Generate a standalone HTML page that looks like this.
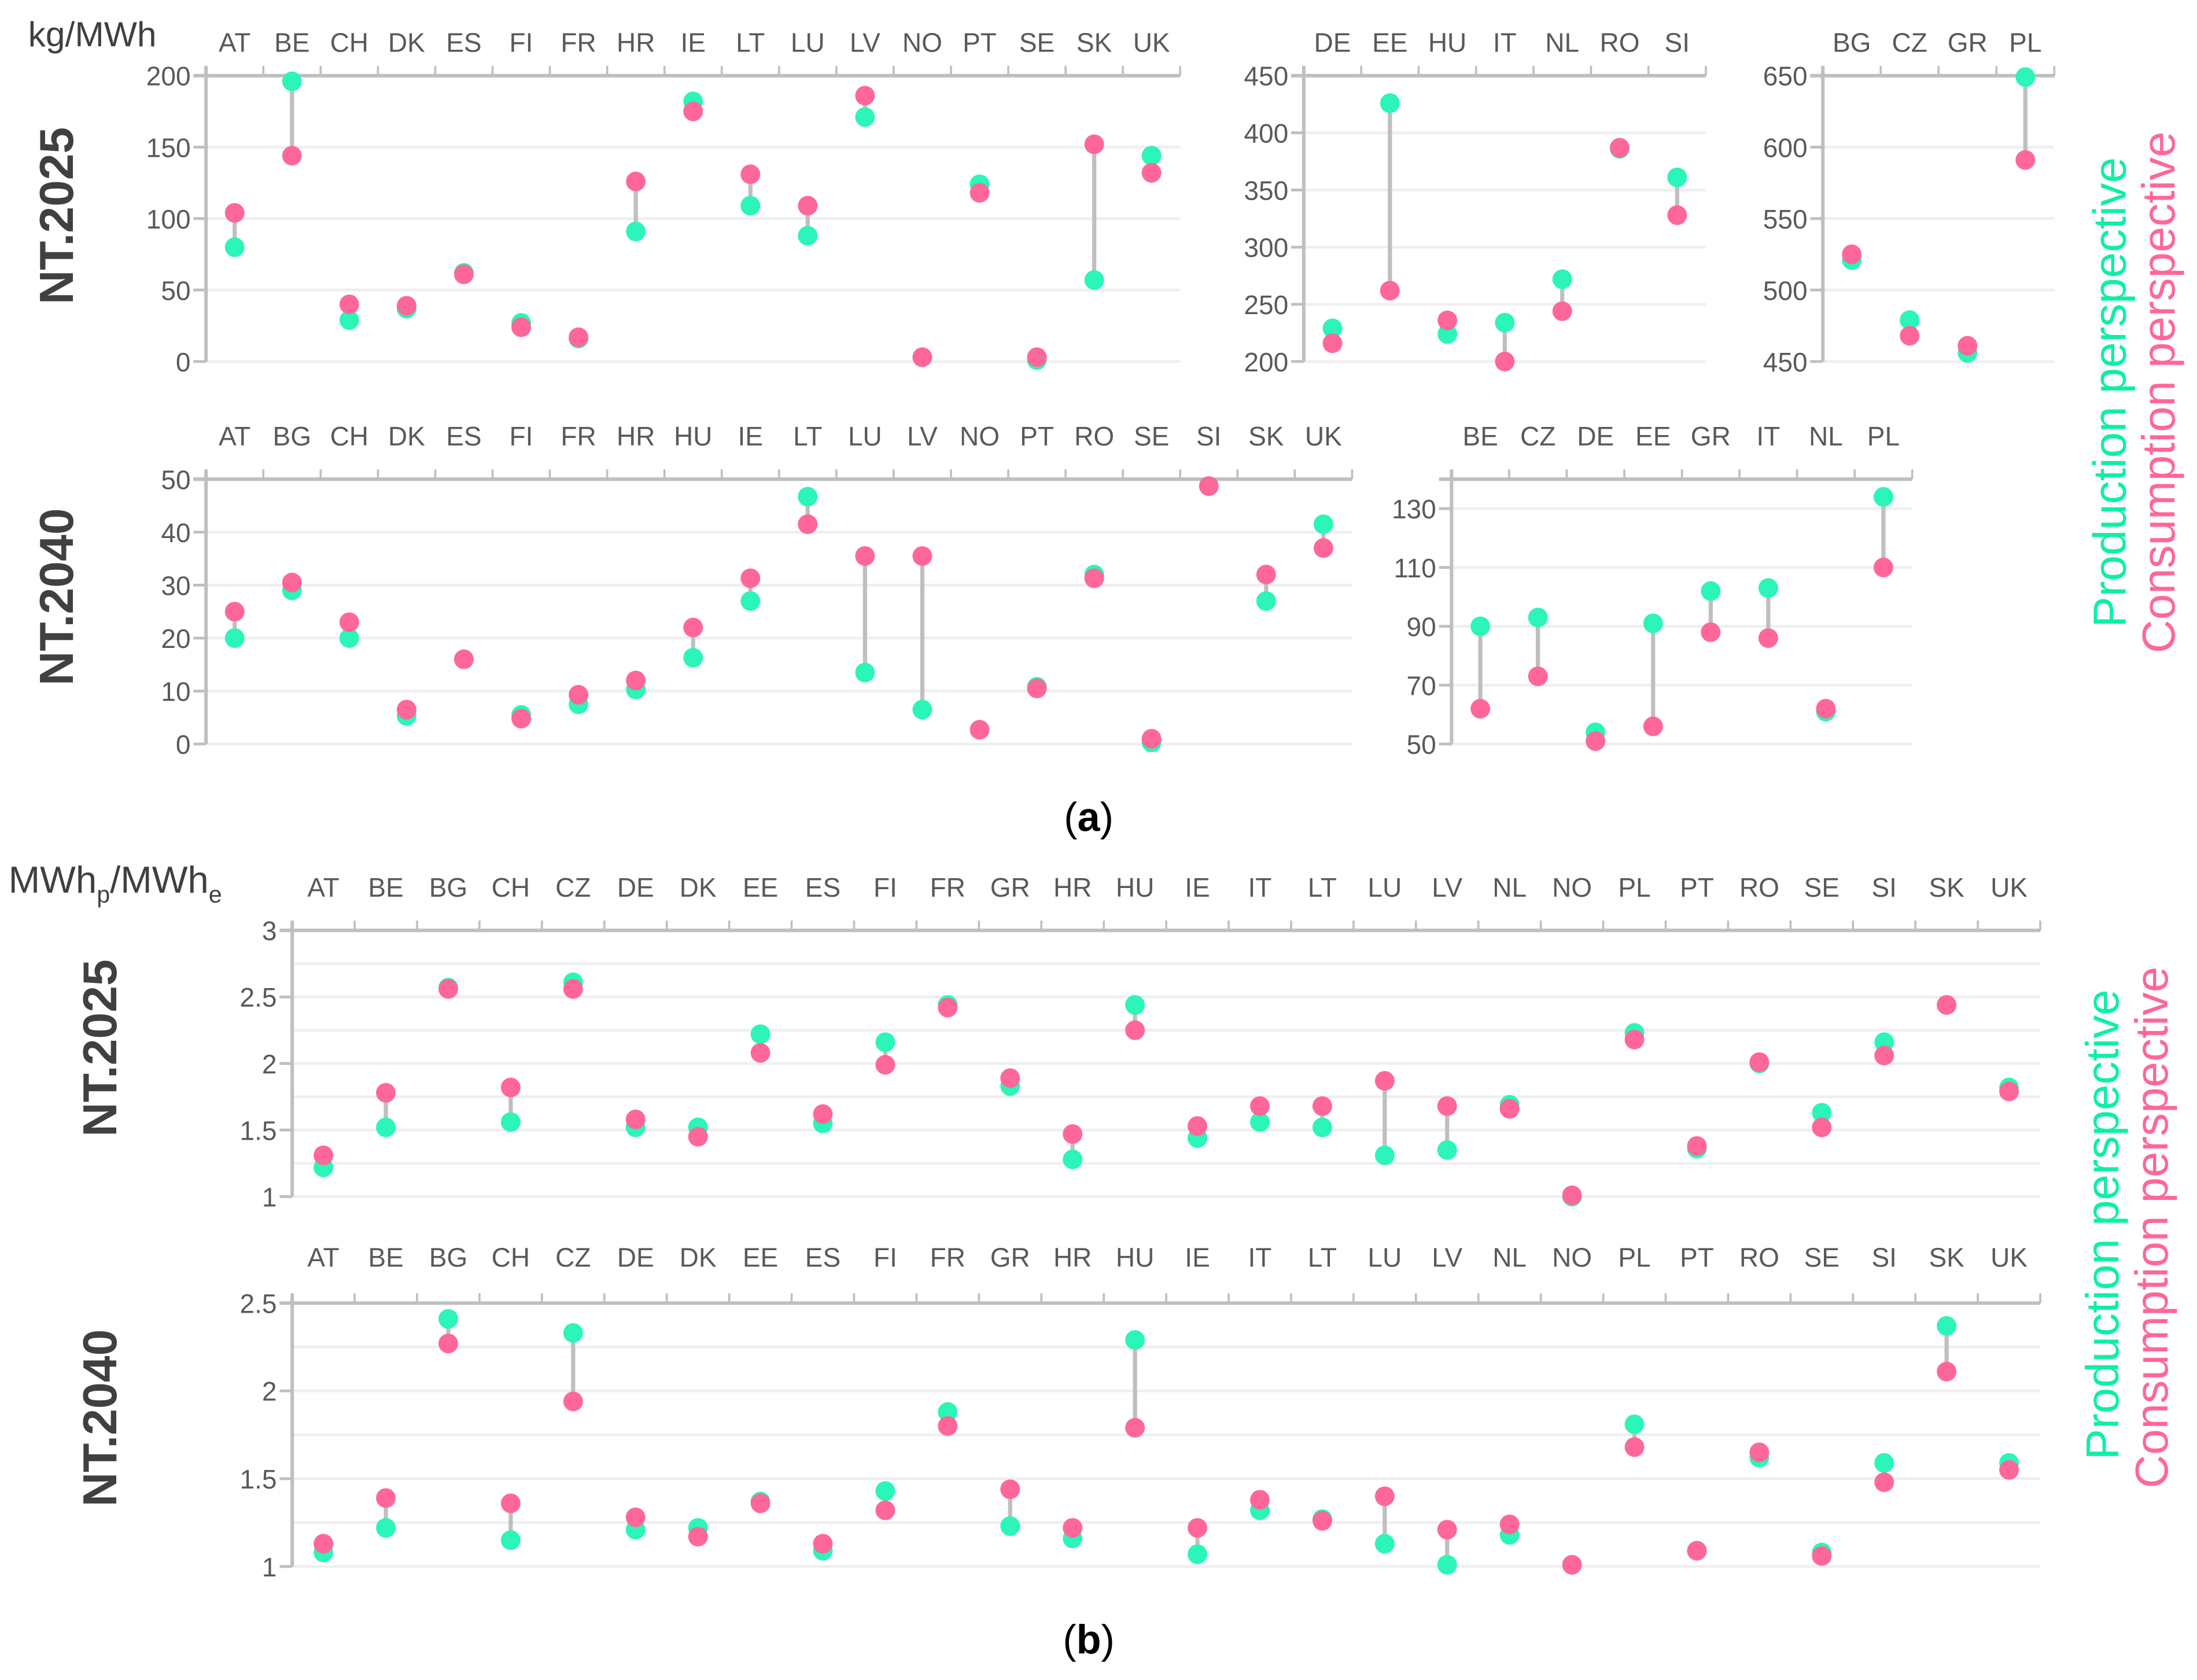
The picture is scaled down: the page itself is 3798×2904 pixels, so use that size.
<!DOCTYPE html>
<html><head><meta charset="utf-8"><style>
html,body{margin:0;padding:0;background:#fff}
svg{display:block}
text{font-family:"Liberation Sans",sans-serif}
</style></head><body>
<svg id="chart" width="3798" height="2904" viewBox="0 0 1568 1199" xmlns="http://www.w3.org/2000/svg">
<g id="root"></g>
</svg>
<script>
// ---- data ----
const catA25L = ["AT","BE","CH","DK","ES","FI","FR","HR","IE","LT","LU","LV","NO","PT","SE","SK","UK"];
const prodA25L = [80,196,29,37,62,27,16,91,182,109,88,171,3,124,1,57,144];
const consA25L = [104,144,40,39,61,24,17,126,175,131,109,186,3,118,3,152,132];
const catA25M = ["DE","EE","HU","IT","NL","RO","SI"];
const prodA25M = [229,426,224,234,272,386,361];
const consA25M = [216,262,236,200,244,387,328];
const catA25R = ["BG","CZ","GR","PL"];
const prodA25R = [521,479,456,649];
const consA25R = [525,468,461,591];
const catA40L = ["AT","BG","CH","DK","ES","FI","FR","HR","HU","IE","LT","LU","LV","NO","PT","RO","SE","SI","SK","UK"];
const prodA40L = [20,29,20,5.3,16,5.5,7.5,10.3,16.3,27,46.7,13.5,6.5,2.7,10.8,32,0.3,48.7,27,41.5];
const consA40L = [25,30.5,23,6.5,16,4.8,9.3,12,22,31.3,41.5,35.5,35.5,2.7,10.5,31.3,1,48.7,32,37];
const catA40R = ["BE","CZ","DE","EE","GR","IT","NL","PL"];
const prodA40R = [90,93,54,91,102,103,61,134];
const consA40R = [62,73,51,56,88,86,62,110];
const catB = ["AT","BE","BG","CH","CZ","DE","DK","EE","ES","FI","FR","GR","HR","HU","IE","IT","LT","LU","LV","NL","NO","PL","PT","RO","SE","SI","SK","UK"];
const prodB25 = [1.22,1.52,2.57,1.56,2.61,1.52,1.52,2.22,1.55,2.16,2.44,1.83,1.28,2.44,1.44,1.56,1.52,1.31,1.35,1.69,1.0,2.23,1.36,2.0,1.63,2.16,2.44,1.82];
const consB25 = [1.31,1.78,2.56,1.82,2.56,1.58,1.45,2.08,1.62,1.99,2.42,1.89,1.47,2.25,1.53,1.68,1.68,1.87,1.68,1.66,1.01,2.18,1.38,2.01,1.52,2.06,2.44,1.79];
const prodB40 = [1.08,1.22,2.41,1.15,2.33,1.21,1.22,1.37,1.09,1.43,1.88,1.23,1.16,2.29,1.07,1.32,1.27,1.13,1.01,1.18,1.01,1.81,1.09,1.62,1.08,1.59,2.37,1.59];
const consB40 = [1.13,1.39,2.27,1.36,1.94,1.28,1.17,1.36,1.13,1.32,1.80,1.44,1.22,1.79,1.22,1.38,1.26,1.40,1.21,1.24,1.01,1.68,1.09,1.65,1.06,1.48,2.11,1.55];
const ticksA25L = [0,50,100,150,200];
const ticksA25M = [200,250,300,350,400,450];
const ticksA25R = [450,500,550,600,650];
const ticksA40L = [0,10,20,30,40,50];
const ticksA40R = [50,70,90,110,130];
const ticksB25 = [1,1.5,2,2.5,3];
const ticksB40 = [1,1.5,2,2.5];

const NS="http://www.w3.org/2000/svg";
const root=document.getElementById('root');
function mk(tag,attrs,parent){const e=document.createElementNS(NS,tag);for(const k in attrs)e.setAttribute(k,attrs[k]);(parent||root).appendChild(e);return e;}

function panel(name,o){
  const g=mk('g',{});
  
  
  const n=o.cats.length;
  const step=o.step;
  const y=v=>o.y0-(v-o.vmin)/(o.vmax-o.vmin)*(o.y0-o.y1);
  const x=i=>o.ax+step/2+i*step;
  const right=o.ax+n*step;
  if(o.minor){for(let v=o.vmin+o.minor;v<o.vmax-1e-9;v+=o.minor){mk('line',{x1:o.ax,x2:right,y1:y(v),y2:y(v),stroke:'#efefef','stroke-width':2},g);}}
  o.ticks.forEach(t=>{
    const gl=mk('line',{x1:o.ax,x2:right,y1:y(t),y2:y(t),stroke:'#efefef','stroke-width':2},g);
    
    
    mk('line',{x1:o.ax-9,x2:o.ax,y1:y(t),y2:y(t),stroke:'#bfbfbf','stroke-width':2},g);
    const tl=mk('text',{x:o.ax-11,y:y(t)+7,'text-anchor':'end','font-size':19,fill:'#595959'},g);
    tl.textContent=String(t);
    
    
  });
  mk('line',{x1:o.ax-9,x2:right,y1:o.y1,y2:o.y1,stroke:'#bfbfbf','stroke-width':2.5},g);
  mk('line',{x1:o.ax,x2:o.ax,y1:o.y1-7,y2:o.y0,stroke:'#bfbfbf','stroke-width':2.5},g);
  for(let i=1;i<=n;i++){mk('line',{x1:o.ax+i*step,x2:o.ax+i*step,y1:o.y1-7,y2:o.y1,stroke:'#bfbfbf','stroke-width':1.5},g);}
  o.cats.forEach((c,i)=>{
    const t=mk('text',{x:x(i),y:o.ly,'text-anchor':'middle','font-size':19,fill:'#595959'},g);
    t.textContent=c;
    
    
    mk('line',{x1:x(i),x2:x(i),y1:y(o.prod[i]),y2:y(o.cons[i]),stroke:'#bfbfbf','stroke-width':3},g);
    const p=mk('circle',{cx:x(i),cy:y(o.prod[i]),r:7,fill:'#2bf5b8'},g);
    
    
    const q=mk('circle',{cx:x(i),cy:y(o.cons[i]),r:7,fill:'#ff6699'},g);
    
    
  });
}
panel('panel-a-2025-left',{cats:catA25L,prod:prodA25L,cons:consA25L,ticks:ticksA25L,vmin:0,vmax:200,ax:147,step:40.9,y0:258,y1:54,ly:37});
panel('panel-a-2025-mid',{cats:catA25M,prod:prodA25M,cons:consA25M,ticks:ticksA25M,vmin:200,vmax:450,ax:930.5,step:41,y0:258,y1:54,ly:37});
panel('panel-a-2025-right',{cats:catA25R,prod:prodA25R,cons:consA25R,ticks:ticksA25R,vmin:450,vmax:650,ax:1301,step:41.3,y0:258,y1:54,ly:37});
panel('panel-a-2040-left',{cats:catA40L,prod:prodA40L,cons:consA40L,ticks:ticksA40L,vmin:0,vmax:50,ax:147,step:40.9,y0:531,y1:342,ly:318});
panel('panel-a-2040-right',{cats:catA40R,prod:prodA40R,cons:consA40R,ticks:ticksA40R,vmin:50,vmax:140,ax:1036,step:41.1,y0:531,y1:342,ly:318});
panel('panel-b-2025',{cats:catB,prod:prodB25,cons:consB25,ticks:ticksB25,vmin:1,vmax:3,ax:208.5,step:44.56,y0:854,y1:664,ly:640,minor:0.25});
panel('panel-b-2040',{cats:catB,prod:prodB40,cons:consB40,ticks:ticksB40,vmin:1,vmax:2.5,ax:208.5,step:44.56,y0:1118,y1:930,ly:904,minor:0.25});
</script>
<svg style="position:absolute;left:0;top:0" width="3798" height="2904" viewBox="0 0 1568 1199" xmlns="http://www.w3.org/2000/svg">
<text x="20" y="33" font-size="25" fill="#404040" font-family="Liberation Sans, sans-serif">kg/MWh</text>
<text x="6" y="637" font-size="27" fill="#404040" font-family="Liberation Sans, sans-serif">MWh<tspan font-size="17" dy="7">p</tspan><tspan dy="-7">/MWh</tspan><tspan font-size="17" dy="7">e</tspan></text>
<g font-family="Liberation Sans, sans-serif" font-weight="bold" font-size="34" fill="#404040" text-anchor="middle">
<text transform="translate(52,154) rotate(-90)">NT.2025</text>
<text transform="translate(52,426) rotate(-90)">NT.2040</text>
<text transform="translate(83,748) rotate(-90)">NT.2025</text>
<text transform="translate(83,1012) rotate(-90)">NT.2040</text>
</g>
<g font-family="Liberation Sans, sans-serif" font-size="33" text-anchor="middle">
<text transform="translate(1517,280) rotate(-90)" style="fill:#0defa8">Production perspective</text>
<text transform="translate(1552,280) rotate(-90)" style="fill:#ff6699">Consumption perspective</text>
<text transform="translate(1512,874) rotate(-90)" style="fill:#0defa8">Production perspective</text>
<text transform="translate(1547,876) rotate(-90)" style="fill:#ff6699">Consumption perspective</text>
</g>
<g font-family="Liberation Serif, serif" font-size="29" fill="#000" text-anchor="middle">
<text x="777" y="593">(<tspan font-weight="bold">a</tspan>)</text>
<text x="777" y="1180">(<tspan font-weight="bold">b</tspan>)</text>
</g>
</svg>
</body></html>
